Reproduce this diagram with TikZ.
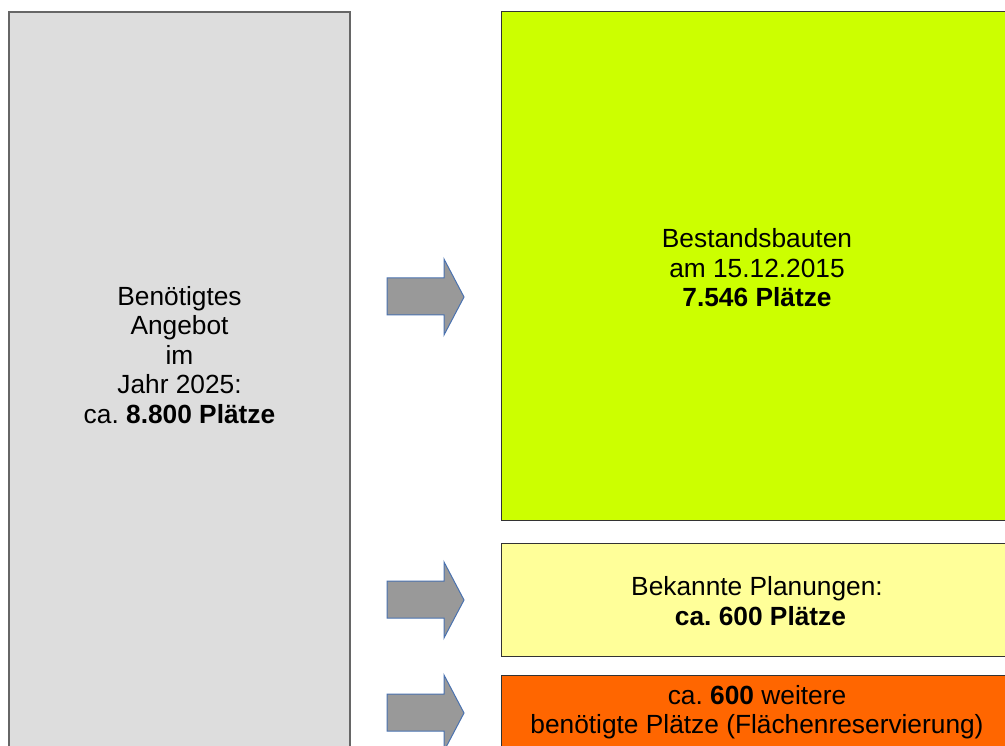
\documentclass[tikz,border=0pt]{standalone}
\usepackage{fontspec}
\setmainfont{Liberation Sans}
\frenchspacing
\definecolor{boxgray}{HTML}{DDDDDD}
\definecolor{boxgreen}{HTML}{CCFF00}
\definecolor{boxyellow}{HTML}{FFFF99}
\definecolor{boxorange}{HTML}{FF6600}
\definecolor{arrowfill}{HTML}{999999}
\definecolor{arrowline}{HTML}{4A72B0}
\definecolor{grayline}{HTML}{666666}
\begin{document}
\begin{tikzpicture}[x=1pt,y=-1pt,
  lbl/.style={align=center,font=\fontsize{26.3}{29.5}\selectfont\frenchspacing,inner sep=0pt},
  fatarrow/.style={fill=arrowfill,draw=arrowline,line width=1pt,line join=miter}]
\useasboundingbox (0,0) rectangle (1005,746);
\clip (0,0) rectangle (1005,746);
% boxes
\draw[fill=boxgray,draw=grayline,line width=1.5pt] (9,12) rectangle (350,760);
\coordinate (gray) at (179.5,355);
\draw[fill=boxgreen,draw=black!80,line width=1pt] (501,12) rectangle (1013,520);
\coordinate (green) at (757,268);
\draw[fill=boxyellow,draw=black!80,line width=1pt] (501,543) rectangle (1013,656);
\coordinate (yellow) at (757,601);
\draw[fill=boxorange,draw=black!80,line width=1pt] (501,675) rectangle (1013,770);
\coordinate (orange) at (757,712);
% texts
\node[lbl] (t1) at (gray) {Benötigtes\\Angebot\\im\\Jahr 2025:\\ca. \textbf{8.800 Plätze}};
\node[lbl] (t2) at (green) {Bestandsbauten\\am 15.12.2015\\\textbf{7.546 Plätze}};
\node[lbl] (t3) at (yellow) {Bekannte Planungen:\\\hspace*{7pt}\textbf{ca. 600 Plätze}};
\node[lbl] (t4) at (orange) {ca. \textbf{600} weitere\\benötigte Plätze (Flächenreservierung)};
% arrows
\draw[fatarrow] (387,278) -- (444,278) -- (444,259) -- (464,297) -- (444,335) -- (444,315) -- (387,315) -- cycle;
\draw[fatarrow] (387,581) -- (444,581) -- (444,562) -- (464,600) -- (444,638) -- (444,618) -- (387,618) -- cycle;
\draw[fatarrow] (387,694) -- (444,694) -- (444,675) -- (464,713) -- (444,751) -- (444,731) -- (387,731) -- cycle;
\end{tikzpicture}
\end{document}
